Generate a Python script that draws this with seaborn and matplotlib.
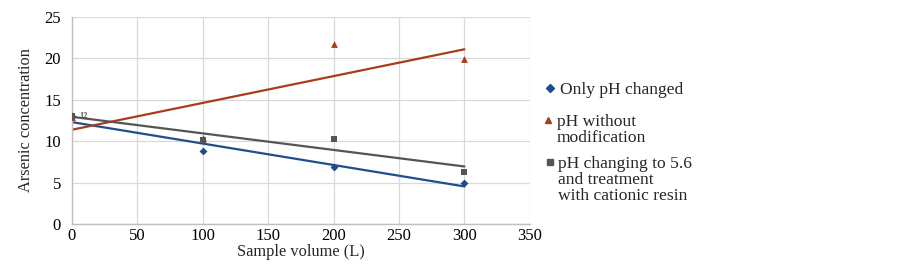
import numpy as np
import pandas as pd
import matplotlib
matplotlib.use("Agg")
import matplotlib.pyplot as plt
from matplotlib.lines import Line2D
import seaborn as sns

# values
volume = [0, 100, 200, 300]
only_ph = [13.0, 8.8, 6.9, 5.0]
ph_without = [12.9, 10.4, 21.8, 19.9]
ph_resin = [13.0, 10.2, 10.3, 6.3]

labels = ["Only pH changed", "pH without\nmodification",
          "pH changing to 5.6\nand treatment\nwith cationic resin"]
colors = ["#1f4e8c", "#a93c1a", "#555555"]
markers = ["D", "^", "s"]
msizes = [16, 24, 20]

sns.set_style("white")
plt.rcParams["font.family"] = ["Liberation Serif", "DejaVu Serif"]

fig = plt.figure(figsize=(9.03, 2.67), dpi=100)
ax = fig.add_axes([0.0797, 0.161, 0.507, 0.775])

for vals, c, m, s in zip([only_ph, ph_without, ph_resin], colors, markers, msizes):
    df = pd.DataFrame({"x": volume, "y": vals})
    sns.regplot(data=df, x="x", y="y", ci=None, ax=ax, marker=m, color=c,
                scatter_kws={"s": s, "linewidths": 0, "alpha": 1, "zorder": 3},
                line_kws={"linewidth": 1.6, "zorder": 2})

# partly hidden data label near the first point
ax.text(volume[0] + 6, ph_resin[0], "12", fontsize=6, color="#555555",
        va="center", ha="left", fontweight="bold")

ax.set_xlim(0, 350)
ax.set_ylim(0, 25)
ax.set_xticks(range(0, 351, 50))
ax.set_yticks(range(0, 26, 5))
ax.grid(True, color="#d9d9d9", linewidth=0.9)
ax.set_axisbelow(True)
for side in ["top", "right"]:
    ax.spines[side].set_visible(False)
for side in ["left", "bottom"]:
    ax.spines[side].set_color("#bfbfbf")
    ax.spines[side].set_linewidth(1.0)
ax.tick_params(axis="x", length=0, labelsize=12, colors="black", pad=3)
ax.tick_params(axis="y", length=0, labelsize=12, colors="black", pad=8)
ax.set_xlabel("Sample volume (L)", fontsize=11.8, labelpad=0)
ax.set_ylabel("Arsenic concentration", fontsize=11.8, labelpad=7)

# legend: marker beside the first line of each label
leg_y = [88, 120, 162]
leg_mx = [550, 548, 550]
leg_tx = [560, 557, 558]
leg_ms = [3.8, 4.6, 4.2]
W, H = 903, 267
for lab, c, m, y, mx, tx, ms in zip(labels, colors, markers, leg_y, leg_mx, leg_tx, leg_ms):
    fig.add_artist(Line2D([mx / W], [1 - y / H], linestyle="none", marker=m,
                          color=c, markersize=ms, transform=fig.transFigure))
    fig.text(tx / W, 1 - (y - 6) / H, lab, fontsize=12.6, va="top", ha="left",
             linespacing=1.02)

fig.savefig("out.png", dpi=100)
